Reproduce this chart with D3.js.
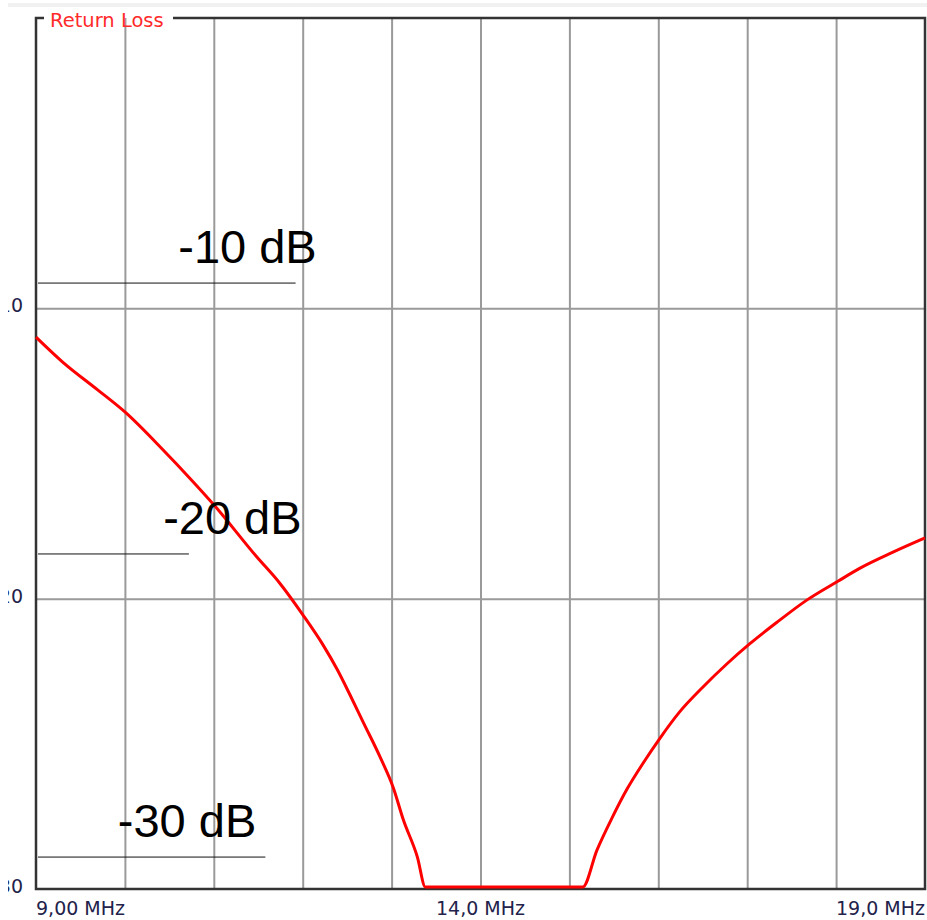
<!DOCTYPE html>
<html>
<head>
<meta charset="utf-8">
<script src="https://cdn.jsdelivr.net/npm/d3@7"></script>
<style>
  html, body { margin: 0; padding: 0; background: #fff; }
  svg { display: block; }
</style>
</head>
<body>
<div id="chart"></div>
<script>
// frequency (MHz) and return loss (dB, drawn downward)
const freqMHz = [9.00, 9.30, 9.69, 10.00, 10.43, 10.73, 11.01, 11.48, 11.74, 12.00, 12.23, 12.39,
  12.53, 12.68, 12.87, 13.02, 13.13, 13.29, 13.38, 15.15, 15.31, 15.48, 15.65, 15.83, 16.02,
  16.24, 16.50, 16.77, 17.03, 17.34, 17.67, 18.02, 18.27, 18.64, 19.00];
const lossDB = [10.99, 11.85, 12.80, 13.57, 14.88, 15.85, 16.80, 18.55, 19.46, 20.55, 21.60, 22.45,
  23.30, 24.25, 25.45, 26.52, 27.60, 28.90, 29.93, 29.93, 28.66, 27.55, 26.55, 25.66, 24.80,
  23.90, 23.05, 22.25, 21.55, 20.80, 20.05, 19.40, 18.95, 18.40, 17.91];

const yTickValues = [10, 20, 30];
const yTickLabels = ['10', '20', '30'];
const xTickValues = [9, 14, 19];
const xTickLabels = ['9,00 MHz', '14,0 MHz', '19,0 MHz'];
const chartTitle = 'Return Loss';

// hand drawn markers laid over the screenshot
const annLabels = ['-10 dB', '-20 dB', '-30 dB'];
const annLevelDB = [9.13, 18.46, 28.90];
const annLineEndMHz = [11.92, 10.72, 11.58];
const annTextMHz = [10.60, 10.43, 9.92];

const width = 927;
const height = 920;

const svg = d3.select('#chart')
  .append('svg')
  .attr('width', width)
  .attr('height', height);

const x = d3.scaleLinear().domain([9, 19]).range([36, 925]);
const y = d3.scaleLinear().domain([0, 30]).range([18, 889]);

// faint strip at the very top of the screenshot
svg.append('rect')
  .attr('x', 8).attr('y', 3)
  .attr('width', width - 8).attr('height', 4)
  .attr('fill', '#f1f1f1');

// vertical grid
svg.append('g')
  .attr('transform', `translate(0,${y(30)})`)
  .call(d3.axisBottom(x)
    .tickValues(d3.range(10, 19))
    .tickSize(-(y(30) - y(0)))
    .tickFormat(''))
  .call(g => g.select('.domain').remove())
  .call(g => g.selectAll('line').attr('stroke', '#9a9a9a').attr('stroke-width', 2));

// horizontal grid
svg.append('g')
  .attr('transform', `translate(${x(9)},0)`)
  .call(d3.axisLeft(y)
    .tickValues([10, 20])
    .tickSize(-(x(19) - x(9)))
    .tickFormat(''))
  .call(g => g.select('.domain').remove())
  .call(g => g.selectAll('line').attr('stroke', '#9a9a9a').attr('stroke-width', 2));

// frame
const frame = svg.append('g').attr('stroke', '#333').attr('stroke-width', 2.5).attr('fill', 'none');
frame.append('path')
  .attr('d', `M${x(9) + 8},${y(0)} L${x(9)},${y(0)} L${x(9)},${y(30)} L${x(19)},${y(30)} L${x(19)},${y(0)} L173,${y(0)}`);

svg.append('text')
  .attr('x', 50)
  .attr('y', 27)
  .attr('font-family', 'DejaVu Sans, sans-serif')
  .attr('font-size', 19.5)
  .attr('fill', '#ff2a2a')
  .text(chartTitle);

// curve
svg.append('path')
  .datum(freqMHz.map((f, i) => [f, lossDB[i]]))
  .attr('fill', 'none')
  .attr('stroke', '#ff0000')
  .attr('stroke-width', 3)
  .attr('stroke-linejoin', 'round')
  .attr('d', d3.line().curve(d3.curveMonotoneX).x(d => x(d[0])).y(d => y(d[1])));

// y labels, clipped like the screenshot edge
svg.append('clipPath').attr('id', 'ylab')
  .append('rect').attr('x', 8).attr('y', 0).attr('width', 40).attr('height', height);

svg.append('g')
  .attr('clip-path', 'url(#ylab)')
  .selectAll('text')
  .data(yTickValues)
  .join('text')
  .attr('x', 23)
  .attr('y', d => y(d) + 4)
  .attr('text-anchor', 'end')
  .attr('font-family', 'DejaVu Sans, sans-serif')
  .attr('font-size', 19)
  .attr('fill', '#22224a')
  .text((d, i) => yTickLabels[i]);

// x labels: start, centre, stop
const anchors = ['start', 'middle', 'end'];
svg.append('g')
  .selectAll('text')
  .data(xTickValues)
  .join('text')
  .attr('x', d => x(d))
  .attr('y', 915)
  .attr('text-anchor', (d, i) => anchors[i])
  .attr('font-family', 'DejaVu Sans, sans-serif')
  .attr('font-size', 19)
  .attr('fill', '#22224a')
  .text((d, i) => xTickLabels[i]);

// annotations
annLabels.forEach((lab, i) => {
  svg.append('line')
    .attr('x1', 38)
    .attr('x2', x(annLineEndMHz[i]))
    .attr('y1', y(annLevelDB[i]))
    .attr('y2', y(annLevelDB[i]))
    .attr('stroke', '#111')
    .attr('stroke-width', 1);
  svg.append('text')
    .attr('x', x(annTextMHz[i]))
    .attr('y', y(annLevelDB[i]) - 20)
    .attr('font-family', 'Liberation Sans, Arial, sans-serif')
    .attr('font-size', 47)
    .attr('fill', '#000')
    .text(lab);
});
</script>
</body>
</html>
